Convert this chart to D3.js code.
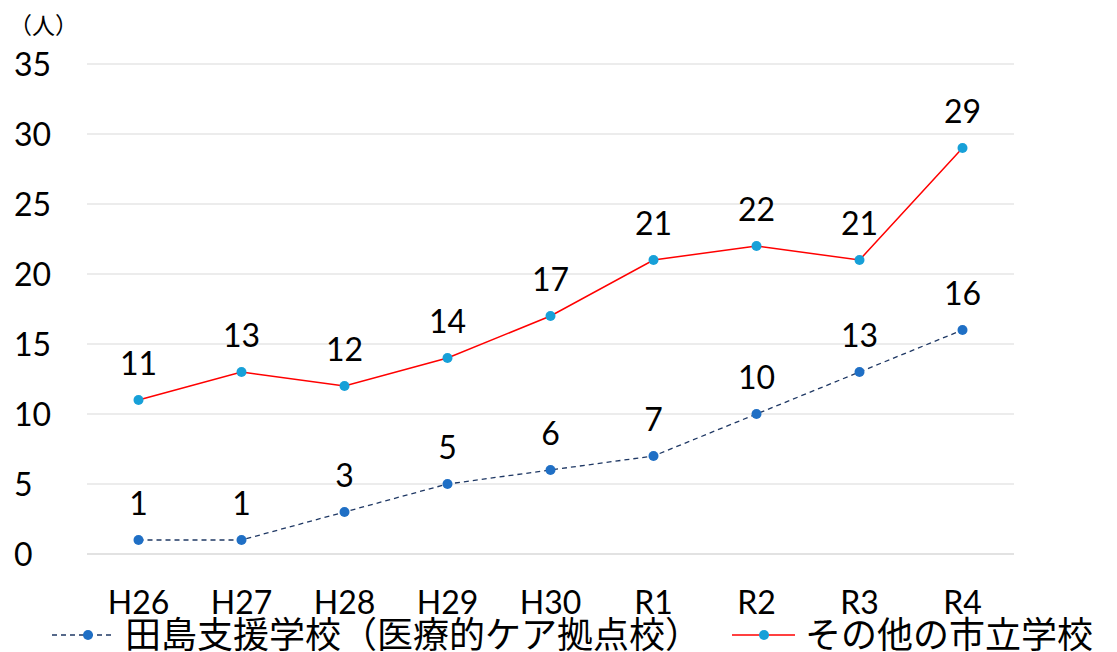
<!DOCTYPE html>
<html><head><meta charset="utf-8">
<script src="https://cdn.jsdelivr.net/npm/d3@7"></script>
<style>body{margin:0;background:#fff}svg{display:block}text{fill:#000}
.lat{font-family:Lato,"Noto Sans",sans-serif}
.cjk{font-family:"Noto Sans CJK JP",sans-serif}</style>
</head><body>
<script>
const categories = ["H26","H27","H28","H29","H30","R1","R2","R3","R4"];
const tajimaValues = [1,1,3,5,6,7,10,13,16];
const otherValues = [11,13,12,14,17,21,22,21,29];
const yTicks = [0,5,10,15,20,25,30,35];
const seriesNames = ["田島支援学校（医療的ケア拠点校）","その他の市立学校"];
const unitLabel = "（人）";

const W = 1117, H = 652;
const svg = d3.select("body").append("svg").attr("width", W).attr("height", H);
const x = d3.scaleBand().domain(categories).range([87, 1014]);
const y = d3.scaleLinear().domain([0, 35]).range([554, 64]);
const cx = d => x(d) + x.bandwidth() / 2;

// grid
svg.append("g").selectAll("line").data(yTicks).join("line")
  .attr("x1", 87).attr("x2", 1014)
  .attr("y1", d => y(d)).attr("y2", d => y(d))
  .attr("stroke", "#d9d9d9").attr("stroke-width", d => d === 0 ? 1.5 : 1);

// y labels
svg.append("g").selectAll("text").data(yTicks).join("text")
  .attr("class", "lat")
  .attr("x", 14).attr("y", d => y(d)).attr("dy", "0.36em")
  .attr("font-size", 32).text(d => d);

svg.append("text").attr("class", "cjk").attr("x", 9).attr("y", 34).attr("font-size", 23).text(unitLabel);

// x labels
svg.append("g").selectAll("text").data(categories).join("text")
  .attr("class", "lat")
  .attr("x", d => cx(d)).attr("y", 602).attr("dy", "0.36em")
  .attr("text-anchor", "middle").attr("font-size", 32).text(d => d);

const series = [
  {vals: tajimaValues, line: "#1f3864", dash: "5,4", mark: "#1f6fc5", width: 1.3},
  {vals: otherValues, line: "#ff0000", dash: null, mark: "#17a0d8", width: 1.5}
];
const lineGen = d3.line().x((d, i) => cx(categories[i])).y(d => y(d));
series.forEach(s => {
  svg.append("path").datum(s.vals).attr("d", lineGen).attr("fill", "none")
    .attr("stroke", s.line).attr("stroke-width", s.width).attr("stroke-dasharray", s.dash);
  svg.append("g").selectAll("circle").data(s.vals).join("circle")
    .attr("cx", (d, i) => cx(categories[i])).attr("cy", d => y(d)).attr("r", 5)
    .attr("fill", s.mark);
  svg.append("g").selectAll("text").data(s.vals).join("text")
    .attr("class", "lat")
    .attr("x", (d, i) => cx(categories[i])).attr("y", d => y(d) - 37).attr("dy", "0.36em")
    .attr("text-anchor", "middle").attr("font-size", 32).text(d => d);
});

// legend
const leg = [
  {x1: 52, x2: 115, mx: 88, tx: 125, s: series[0], name: seriesNames[0]},
  {x1: 732, x2: 795, mx: 764, tx: 805, s: series[1], name: seriesNames[1]}
];
const ly = 635;
leg.forEach(l => {
  svg.append("line").attr("x1", l.x1).attr("x2", l.x2).attr("y1", ly).attr("y2", ly)
    .attr("stroke", l.s.line).attr("stroke-width", l.s.width).attr("stroke-dasharray", l.s.dash);
  svg.append("circle").attr("cx", l.mx).attr("cy", ly).attr("r", 5).attr("fill", l.s.mark);
  svg.append("text").attr("class", "cjk").attr("x", l.tx).attr("y", ly).attr("dy", "0.36em")
    .attr("font-size", 36).text(l.name);
});
</script>
</body></html>
